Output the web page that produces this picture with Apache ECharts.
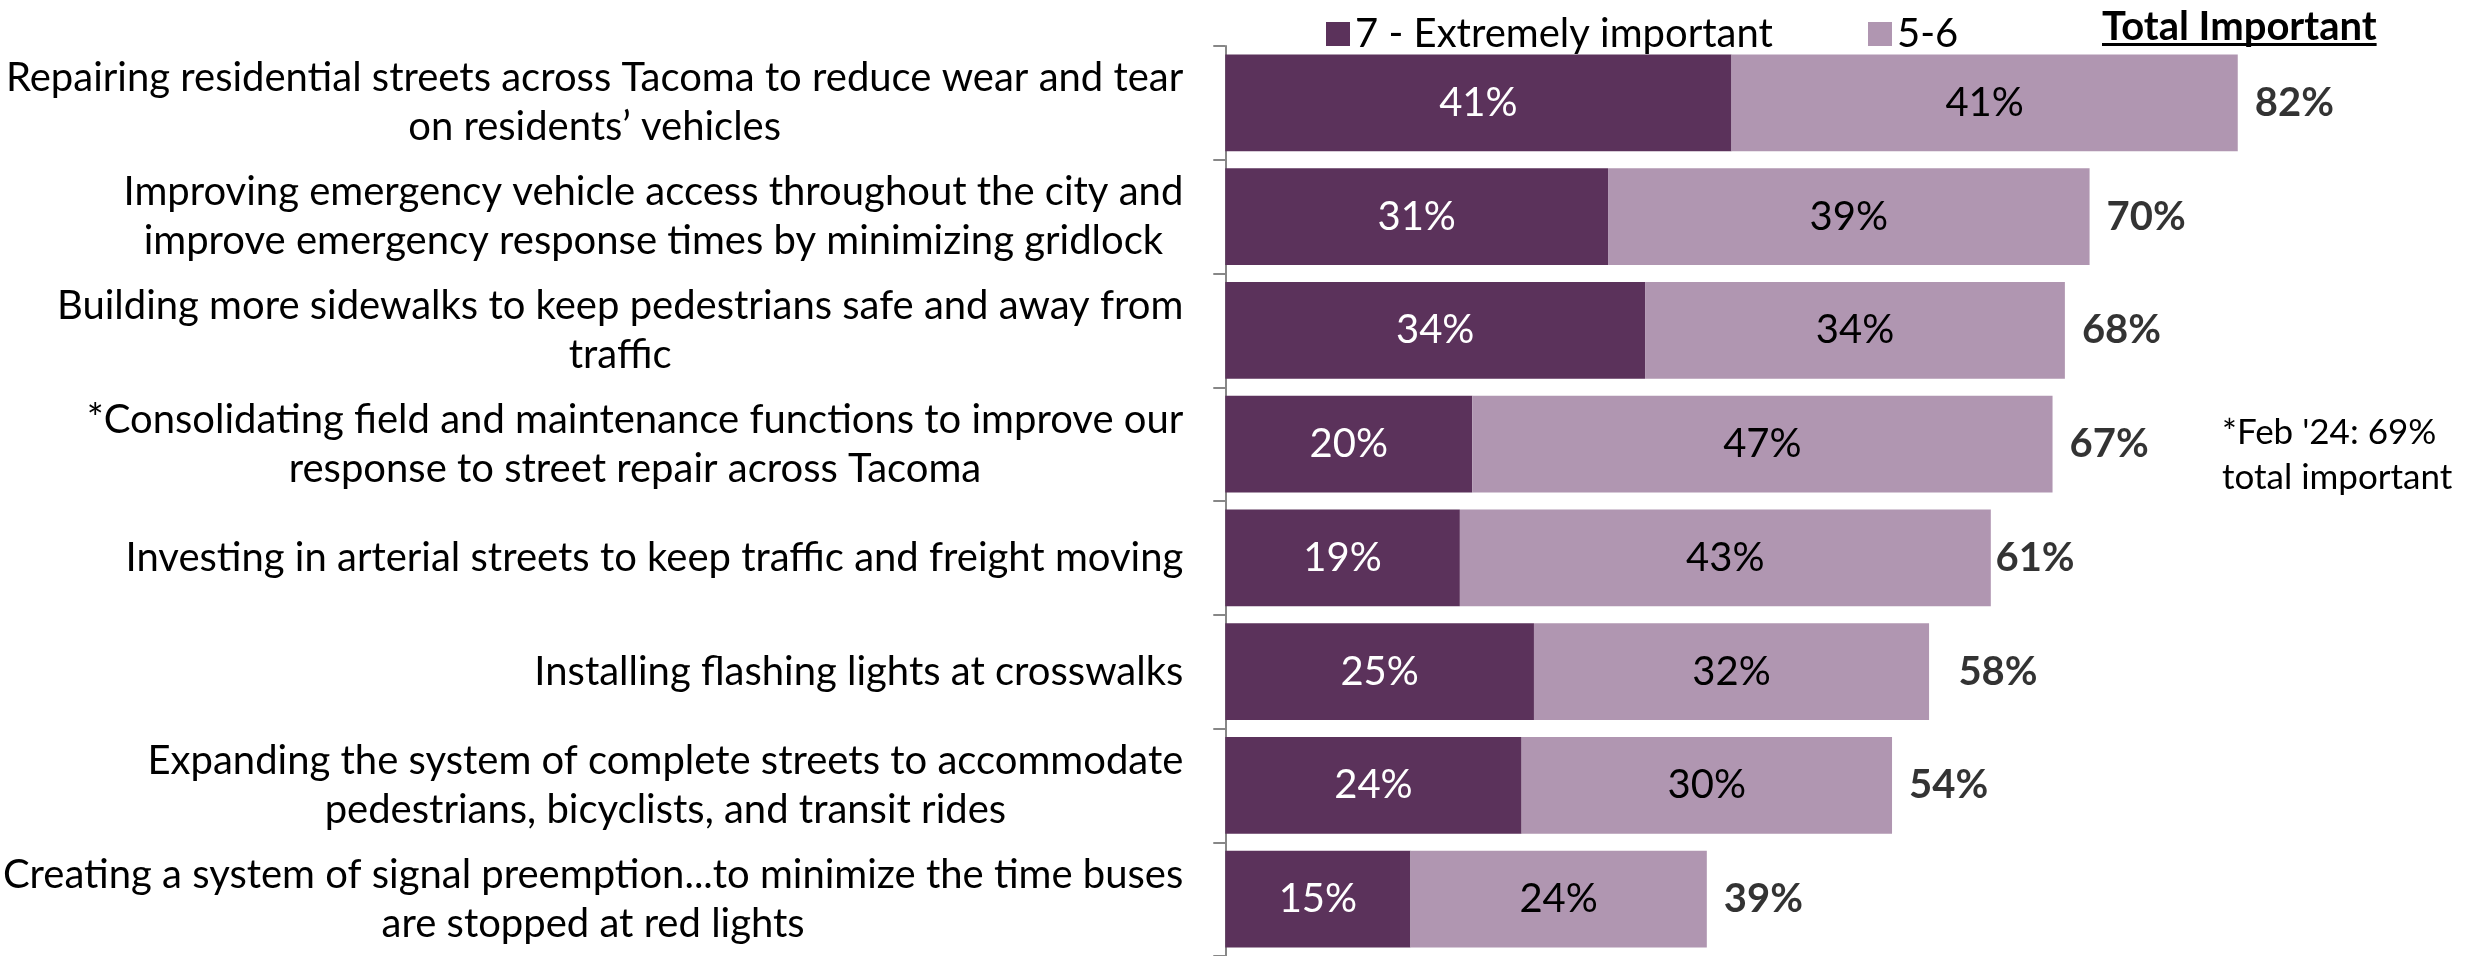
<!DOCTYPE html>
<html>
<head>
<meta charset="utf-8">
<script src="https://cdn.jsdelivr.net/npm/echarts/dist/echarts.min.js"></script>
<style>
html,body{margin:0;padding:0;background:#fff;}
#c{width:2465px;height:956px;}
</style>
</head>
<body>
<div id="c"></div>
<script>
// ---- data ----
const categories = [
  "Repairing residential streets across Tacoma to reduce wear and tear\non residents\u2019 vehicles",
  "Improving emergency vehicle access throughout the city and\nimprove emergency response times by minimizing gridlock",
  "Building more sidewalks to keep pedestrians safe and away from\ntraffic",
  "*Consolidating field and maintenance functions to improve our\nresponse to street repair across Tacoma",
  "Investing in arterial streets to keep traffic and freight moving",
  "Installing flashing lights at crosswalks",
  "Expanding the system of complete streets to accommodate\npedestrians, bicyclists, and transit rides",
  "Creating a system of signal preemption...to minimize the time buses\nare stopped at red lights"
];
const extremely = [41, 31, 34, 20, 19, 25, 24, 15];
const important56 = [41, 39, 34, 47, 43, 32, 30, 24];
const totals = [82, 70, 68, 67, 61, 58, 54, 39];
const seriesNames = ["7 - Extremely important", "5-6"];
const headerText = "Total Important";
const noteText = "*Feb '24: 69%\ntotal important";

// ---- styling ----
const FONT = "Lato";
const FS = 40;
const DARK = "#5b325b";
const LIGHT = "#b096b1";
const AXIS = "#878787";

const chart = echarts.init(document.getElementById("c"), null, {renderer: "canvas"});

const HFS = 40;
const mctx = document.createElement("canvas").getContext("2d");
mctx.font = "bold " + HFS + "px " + FONT;
const headerW = mctx.measureText(headerText).width;
const headerX = 2102;

const option = {
  animation: false,
  backgroundColor: "#fff",
  textStyle: {fontFamily: FONT},
  grid: {left: 1223, right: 5, top: 46, height: 912, containLabel: false},
  xAxis: {type: "value", min: 0, max: 100, show: false},
  yAxis: {
    type: "category",
    inverse: true,
    data: categories,
    axisLine: {show: true, lineStyle: {color: AXIS, width: 2}},
    axisTick: {show: true, length: 12, lineStyle: {color: AXIS, width: 2}},
    axisLabel: {
      margin: 42,
      formatter: function (v) {
        return v.split("\n").map(function (s) { return "{c|" + s + "}"; }).join("\n");
      },
      rich: {c: {align: "center", fontSize: FS, lineHeight: 49, color: "#000", fontFamily: FONT}}
    }
  },
  legend: [
    {
      data: [seriesNames[0]], left: 1326, top: 14, itemWidth: 24, itemHeight: 24,
      icon: "rect", itemGap: 0, padding: 0,
      textStyle: {fontSize: FS, color: "#000", fontFamily: FONT}
    },
    {
      data: [seriesNames[1]], left: 1868, top: 14, itemWidth: 24, itemHeight: 24,
      icon: "rect", itemGap: 0, padding: 0,
      textStyle: {fontSize: FS, color: "#000", fontFamily: FONT}
    }
  ],
  series: [
    {
      name: seriesNames[0], type: "bar", stack: "s", data: extremely, barWidth: "85%",
      itemStyle: {color: DARK},
      label: {show: true, position: "inside", color: "#fff", fontSize: FS, fontFamily: FONT, formatter: "{c}%"}
    },
    {
      name: seriesNames[1], type: "bar", stack: "s", data: important56, barWidth: "85%",
      itemStyle: {color: LIGHT},
      label: {show: true, position: "inside", color: "#000", fontSize: FS, fontFamily: FONT, formatter: "{c}%"}
    },
    {
      name: "total", type: "scatter", silent: true, symbolSize: 0,
      data: totals.map(function (t, i) { return [t, i]; }),
      label: {
        show: true, position: "right", distance: 17, color: "#000", fontWeight: "bold",
        fontSize: FS, fontFamily: FONT,
        formatter: function (p) { return p.value[0] + "%"; }
      }
    }
  ],
  graphic: [
    {
      type: "text",
      style: {
        text: headerText, x: headerX, y: 27, verticalAlign: "middle",
        fontSize: HFS, fontWeight: "bold", fontFamily: FONT, fill: "#000"
      }
    },
    {
      type: "rect",
      shape: {x: headerX, y: 43, width: headerW, height: 3},
      style: {fill: "#000"}
    },
    {
      type: "text",
      style: {
        text: noteText, x: 2222, y: 410, verticalAlign: "top", lineHeight: 45,
        fontSize: 35, fontFamily: FONT, fill: "#000"
      }
    }
  ]
};
chart.setOption(option);
</script>
</body>
</html>
